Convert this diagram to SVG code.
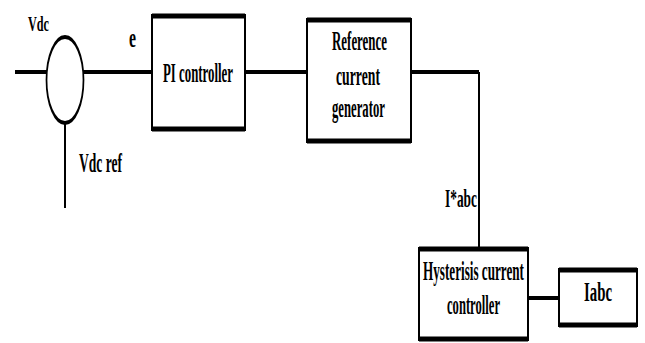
<svg xmlns="http://www.w3.org/2000/svg" width="645" height="343" viewBox="0 0 645 343">
<style>
.bx{fill:#fff;stroke:#000;stroke-width:2}
.tb{stroke:#000;stroke-width:5;fill:none}
.h{stroke:#000;stroke-width:4;fill:none}
.v{stroke:#000;stroke-width:2;fill:none}
text{font-family:"Liberation Serif","Times New Roman",serif;font-weight:bold;fill:#000}
</style>
<rect width="645" height="343" fill="#fff"/>
<g id="connectors">
<path class="h" d="M15 72H47"/>
<path class="h" d="M83 72H152"/>
<path class="v" d="M65 123V208"/>
<path class="h" d="M245 72H307"/>
<path class="h" d="M411 72H479"/>
<path class="v" d="M479 72V248"/>
<path class="h" d="M528 298H559"/>
</g>
<g id="summer">
<circle cx="0" cy="0" r="43" fill="#fff" stroke="#000" stroke-width="4" transform="translate(65,80) scale(0.43,1)"/>
</g>
<g id="labels">
<text transform="translate(28,31) scale(0.6,1)" font-size="21" textLength="35" lengthAdjust="spacingAndGlyphs">Vdc</text>
<text transform="translate(129,47) scale(0.6,1)" font-size="27" textLength="11.7" lengthAdjust="spacingAndGlyphs">e</text>
<text transform="translate(79,172) scale(0.6,1)" font-size="28" textLength="71.7" lengthAdjust="spacingAndGlyphs">Vdc ref</text>
<text transform="translate(445,207) scale(0.6,1)" font-size="25" textLength="53.3" lengthAdjust="spacingAndGlyphs">I*abc</text>
</g>
<g id="pi">
<rect class="bx" x="152" y="15" width="93" height="115"/>
<path class="tb" d="M152 16H245M152 129H245"/>
<text transform="translate(163,82) scale(0.6,1)" font-size="28" textLength="116.7" lengthAdjust="spacingAndGlyphs">PI controller</text>
</g>
<g id="refgen">
<rect class="bx" x="307" y="19" width="104" height="123"/>
<path class="tb" d="M307 20H411M307 141H411"/>
<text transform="translate(332,50) scale(0.6,1)" font-size="28" textLength="91.7" lengthAdjust="spacingAndGlyphs">Reference</text>
<text transform="translate(336,85) scale(0.6,1)" font-size="28" textLength="73.3" lengthAdjust="spacingAndGlyphs">current</text>
<text transform="translate(332,117) scale(0.6,1)" font-size="28" textLength="88.3" lengthAdjust="spacingAndGlyphs">generator</text>
</g>
<g id="hyst">
<rect class="bx" x="419" y="248" width="109" height="92"/>
<path class="tb" d="M419 249H528M419 339H528"/>
<text transform="translate(423,280) scale(0.6,1)" font-size="28" textLength="168.3" lengthAdjust="spacingAndGlyphs">Hysterisis current</text>
<text transform="translate(447,314) scale(0.6,1)" font-size="28" textLength="88.3" lengthAdjust="spacingAndGlyphs">controller</text>
</g>
<g id="iabc">
<rect class="bx" x="559" y="269" width="78" height="57"/>
<path class="tb" d="M559 270H637M559 325H637"/>
<text transform="translate(584,301) scale(0.6,1)" font-size="28" textLength="46.7" lengthAdjust="spacingAndGlyphs">Iabc</text>
</g>
</svg>
